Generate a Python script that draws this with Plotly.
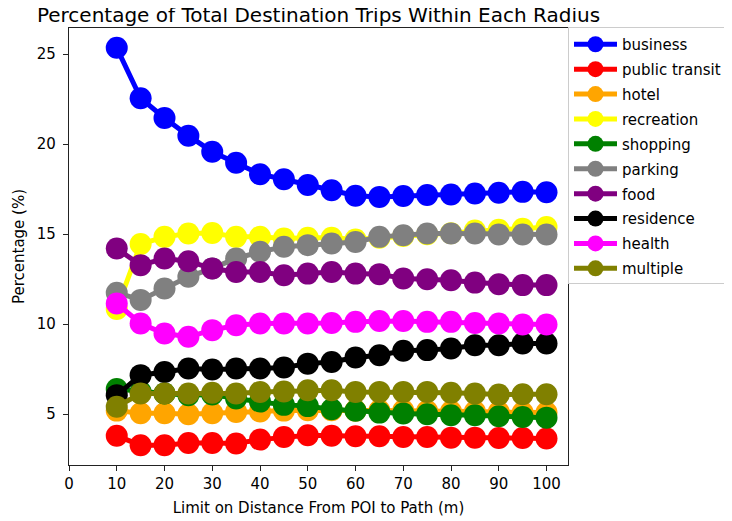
import plotly.graph_objects as go

distances = [10, 15, 20, 25, 30, 35, 40, 45, 50, 55, 60, 65, 70, 75, 80, 85, 90, 95, 100]

business = [25.35, 22.55, 21.45, 20.47, 19.58, 18.97, 18.33, 18.05, 17.73, 17.44, 17.13, 17.07, 17.12, 17.17, 17.2, 17.26, 17.3, 17.35, 17.33]
public_transit = [3.8, 3.28, 3.28, 3.4, 3.4, 3.37, 3.59, 3.74, 3.83, 3.8, 3.78, 3.78, 3.74, 3.74, 3.7, 3.7, 3.68, 3.68, 3.65]
hotel = [5.2, 5.05, 5.05, 5.0, 5.05, 5.13, 5.15, 5.2, 5.22, 5.22, 5.2, 5.2, 5.2, 5.18, 5.15, 5.15, 5.12, 5.1, 5.1]
recreation = [10.85, 14.45, 14.85, 15.04, 15.07, 14.85, 14.85, 14.76, 14.8, 14.8, 14.7, 14.8, 14.9, 15.0, 15.05, 15.2, 15.25, 15.3, 15.4]
shopping = [6.4, 6.25, 6.15, 6.06, 6.1, 5.87, 5.7, 5.52, 5.45, 5.28, 5.19, 5.09, 5.04, 5.0, 4.94, 4.94, 4.89, 4.85, 4.81]
parking = [11.75, 11.35, 11.98, 12.63, 13.1, 13.65, 14.02, 14.3, 14.39, 14.48, 14.57, 14.85, 14.94, 15.04, 15.04, 15.04, 14.98, 14.98, 14.98]
food = [14.2, 13.28, 13.65, 13.5, 13.09, 12.9, 12.9, 12.72, 12.81, 12.9, 12.81, 12.78, 12.54, 12.5, 12.44, 12.31, 12.22, 12.17, 12.17]
residence = [6.06, 7.17, 7.35, 7.54, 7.48, 7.54, 7.54, 7.59, 7.81, 7.9, 8.15, 8.28, 8.52, 8.56, 8.65, 8.83, 8.83, 8.93, 8.93]
health = [11.15, 10.04, 9.48, 9.3, 9.67, 9.94, 10.04, 10.04, 10.04, 10.07, 10.13, 10.18, 10.18, 10.13, 10.13, 10.07, 10.04, 9.98, 9.98]
multiple = [5.41, 6.15, 6.15, 6.15, 6.19, 6.15, 6.24, 6.26, 6.33, 6.33, 6.24, 6.24, 6.24, 6.24, 6.19, 6.15, 6.09, 6.11, 6.11]

series_names = ["business", "public transit", "hotel", "recreation", "shopping",
                "parking", "food", "residence", "health", "multiple"]
series_values = [business, public_transit, hotel, recreation, shopping,
                 parking, food, residence, health, multiple]
series_colors = ["#0000FF", "#FF0000", "#FFA500", "#FFFF00", "#008000",
                 "#808080", "#800080", "#000000", "#FF00FF", "#808000"]

FONT = "DejaVu Sans"
W, H = 724, 513  # page body has an 8px margin
PL, PR, PT, PB = 61, 560, 20, 457  # plot area in figure pixels

fig = go.Figure()
for name, vals, col in zip(series_names, series_values, series_colors):
    fig.add_trace(go.Scatter(
        x=distances, y=vals, name=name, legendgroup=name,
        mode="lines+markers",
        line=dict(color=col, width=5),
        marker=dict(color=col, size=22),
    ))

fig.update_layout(
    width=W, height=H,
    margin=dict(l=PL, r=W - PR, t=PT, b=H - PB),
    paper_bgcolor="white", plot_bgcolor="white",
    font=dict(family=FONT, size=15, color="black"),
    title=dict(text="Percentage of Total Destination Trips Within Each Radius",
               x=(PL + PR) / 2 / W, xanchor="center",
               yref="container", y=1.0, yanchor="top",
               font=dict(family=FONT, size=20, color="black")),
    legend=dict(xref="container", yref="container",
                x=PR / W, xanchor="left", y=1 - (PT - 1) / H, yanchor="top",
                bordercolor="#cccccc", borderwidth=1, bgcolor="white",
                font=dict(family=FONT, size=15, color="black"),
                tracegroupgap=2.4, itemsizing="trace", itemwidth=43),
    showlegend=True,
)
fig.update_xaxes(
    range=[0, 104.5], tickmode="array", tickvals=list(range(0, 101, 10)),
    showgrid=False, zeroline=False, showline=True, linecolor="#222", linewidth=1.2,
    mirror=True, ticks="outside", ticklen=5, tickcolor="#222", automargin=False,
    title=dict(text="Limit on Distance From POI to Path (m)", standoff=10,
               font=dict(size=15)),
    tickfont=dict(size=15),
)
fig.update_yaxes(
    range=[2.18, 26.45], tickmode="array", tickvals=[5, 10, 15, 20, 25],
    showgrid=False, zeroline=False, showline=True, linecolor="#222", linewidth=1.2,
    mirror=True, ticks="outside", ticklen=5, tickcolor="#222", automargin=False,
    ticklabelstandoff=4,
    title=dict(text="Percentage (%)", standoff=8, font=dict(size=15)),
    tickfont=dict(size=15),
)

fig.write_html("out.html")
